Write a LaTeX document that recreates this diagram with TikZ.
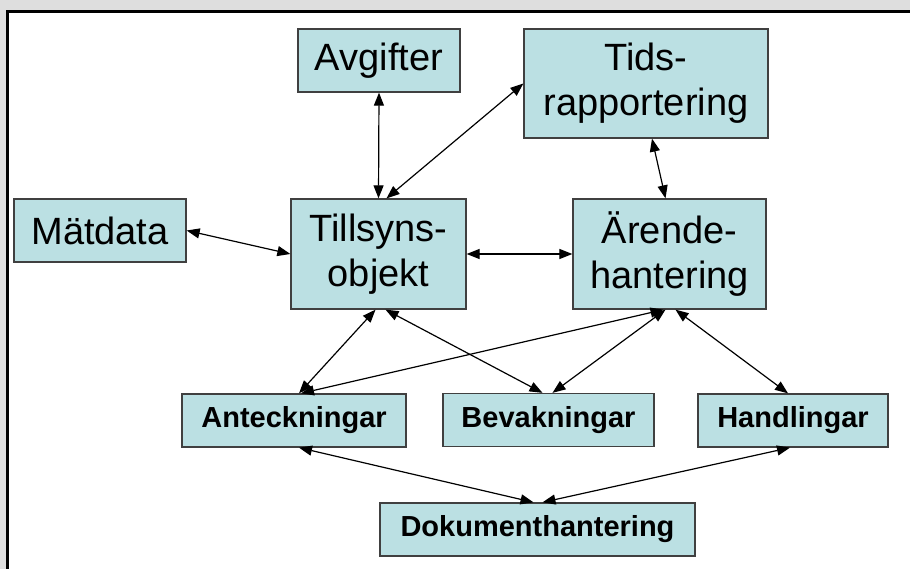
\documentclass[tikz,border=0pt]{standalone}
\usepackage{fontspec}
\setmainfont{Liberation Sans}
\usetikzlibrary{arrows.meta}

\definecolor{boxfill}{RGB}{187,224,227}
\definecolor{framegray}{RGB}{222,222,222}

\begin{document}
\begin{tikzpicture}[x=1pt,y=-1pt,
    box/.style={draw=black!75,line width=1.3pt,fill=boxfill,inner sep=0pt,align=center},
    bigbox/.style={box,font=\fontsize{38}{45}\selectfont},
    smallbox/.style={box,minimum height=53pt,font=\bfseries\fontsize{29}{34}\selectfont},
    link/.style={<->,>={Triangle[length=13pt,width=10pt]},line width=1.2pt}]
        \useasboundingbox (0,0) rectangle (910,569);
        % Frame
        \fill[framegray] (0,0) rectangle (910,10);
        \fill[framegray] (0,0) rectangle (6,569);
        \draw[line width=3pt] (7.5,569) -- (7.5,11.5) -- (910,11.5);

        % Define the boxes
        \node[bigbox,minimum width=162,minimum height=63] (avg) at (379,60.5) {Avgifter};
        \node[bigbox,minimum width=244,minimum height=109] (tids) at (646,83.5) {Tids-\\rapportering};
        \node[bigbox,minimum width=172,minimum height=63] (mat) at (100,230.5) {Mätdata};
        \node[bigbox,minimum width=175,minimum height=110] (till) at (378.5,254) {Tillsyns-\\objekt};
        \node[bigbox,minimum width=193,minimum height=110] (arende) at (669.5,254) {Ärende-\\hantering};
        \node[smallbox,minimum width=224] (ant) at (294,420.5) {Anteckningar};
        \node[smallbox,minimum width=211] (bev) at (548.5,420) {Bevakningar};
        \node[smallbox,minimum width=190] (hand) at (793,420.5) {Handlingar};
        \node[smallbox,minimum width=315] (dok) at (537.5,529.5) {Dokumenthantering};

        % Draw the links
        \foreach \a/\b in {avg.south/till.north, mat.east/till.west, till.east/arende.west}
        \draw[link] (\a) -- (\b);

        \draw[link] ([xshift=8]till.north) -- (tids.west);
        \draw[link] ([xshift=6]tids.south) -- ([xshift=-4]arende.north);
        \draw[link] ([xshift=-3]till.south) -- ([xshift=5]ant.north);
        \draw[link] ([xshift=7]till.south) -- ([xshift=-6]bev.north);
        \draw[link] ([xshift=-6]arende.south) -- ([xshift=7]ant.north);
        \draw[link] ([xshift=-4]arende.south) -- ([xshift=4]bev.north);
        \draw[link] ([xshift=6]arende.south) -- ([xshift=-5]hand.north);
        \draw[link] ([xshift=5]ant.south) -- ([xshift=-4]dok.north);
        \draw[link] ([xshift=-3]hand.south) -- ([xshift=5]dok.north);
\end{tikzpicture}
\end{document}
